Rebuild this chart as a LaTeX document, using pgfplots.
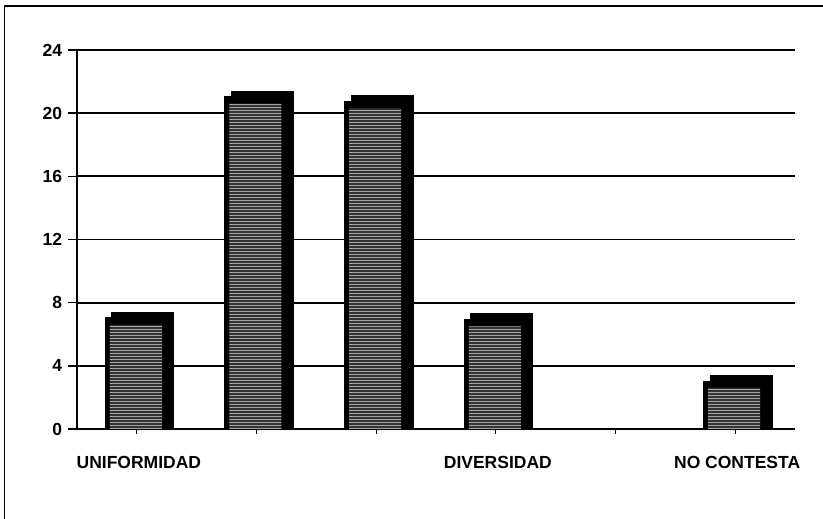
\documentclass[border=0pt]{standalone}
\usepackage{pgfplots}
\pgfplotsset{compat=1.18}
\usetikzlibrary{patterns}
\usepackage{fontspec}
\setmainfont{Liberation Sans}
\begin{document}
\begin{tikzpicture}
\begin{axis}[
  at={(77pt,90pt)}, anchor=south west,
  scale only axis, width=718pt, height=379pt,
  xmin=0.5, xmax=6.5, ymin=0, ymax=24,
  axis lines*=left,
  axis line style={line width=1.8pt, black},
  ymajorgrids, grid style={black, line width=1.7pt},
  tick align=outside,
  xtick={1,2,3,4,5,6},
  xticklabels={UNIFORMIDAD,,,DIVERSIDAD,,NO CONTESTA},
  ytick={0,4,8,12,16,20,24},
  yticklabels={0,4,8,12,16,20,24},
  xtick style={black, line width=1.3pt, /pgfplots/major tick length=5pt},
  ytick style={black, line width=1.5pt, /pgfplots/major tick length=9pt},
  ticklabel style={font=\bfseries\fontsize{17.5}{17.5}\selectfont},
  xticklabel style={yshift=-19pt, xshift=2pt},
  yticklabel style={xshift=-7pt},
  clip=false,
]
\addplot[ybar, bar width=62pt, bar shift=6pt, fill=black, draw=black, line width=1pt]
  coordinates {(1,7.4) (2,21.4) (3,21.1) (4,7.3) (6,3.4)};
\addplot[ybar, bar width=62pt, bar shift=0pt, fill=black, draw=black, line width=2pt]
  coordinates {(1,7) (2,21) (3,20.7) (4,6.9) (6,3)};
\addplot[ybar, bar width=52pt, bar shift=-1pt, fill=black!80, draw=none]
  coordinates {(1,6.6) (2,20.6) (3,20.3) (4,6.5) (6,2.6)};
\addplot[ybar, bar width=52pt, bar shift=-1pt, draw=none, pattern=horizontal lines, pattern color=black!35]
  coordinates {(1,6.6) (2,20.6) (3,20.3) (4,6.5) (6,2.6)};
\end{axis}
\draw[line width=1.5pt] (4.5pt,-20pt) -- (4.5pt,513pt) -- (840pt,513pt);
\pgfresetboundingbox
\useasboundingbox (0,0) rectangle (823pt,519pt);
\end{tikzpicture}
\end{document}
